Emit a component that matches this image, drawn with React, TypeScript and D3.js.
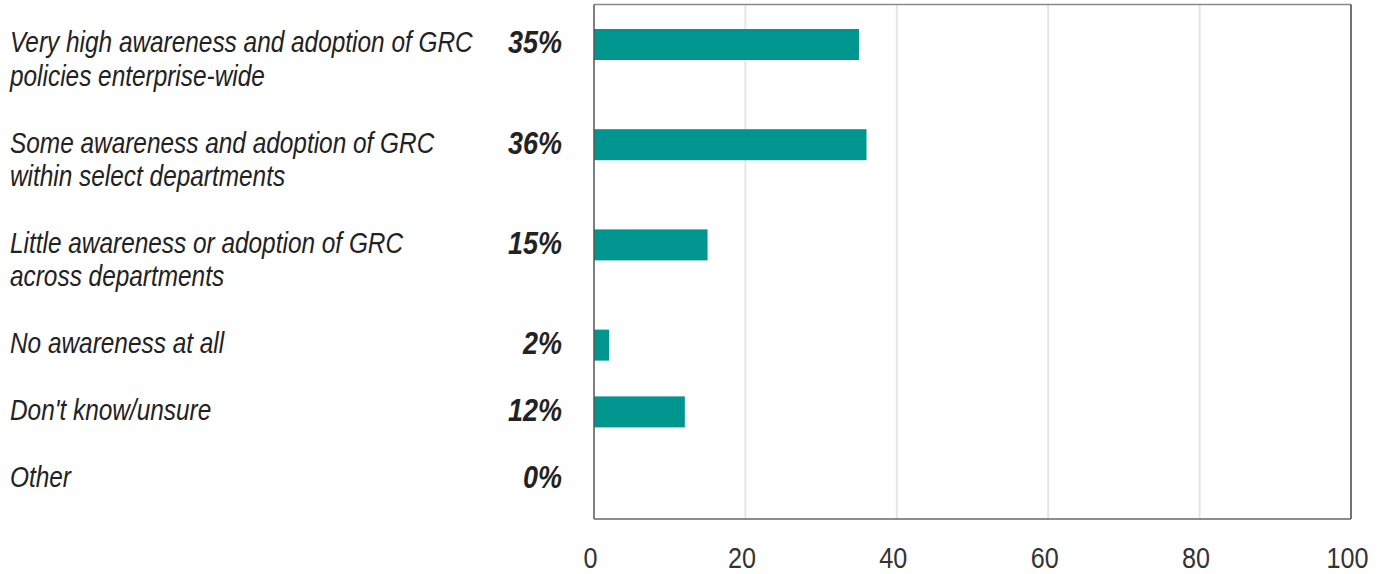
import { useEffect, useRef } from "react";
import * as d3 from "d3";

// survey answers (label lines kept as shown in the report)
const categories: string[][] = [
  ["Very high awareness and adoption of GRC", "policies enterprise-wide"],
  ["Some awareness and adoption of GRC", "within select departments"],
  ["Little awareness or adoption of GRC", "across departments"],
  ["No awareness at all"],
  ["Don't know/unsure"],
  ["Other"],
];
const values: number[] = [35, 36, 15, 2, 12, 0];
const xTicks: number[] = [0, 20, 40, 60, 80, 100];

const W = 1383;
const H = 574;
const FONT = "'Liberation Sans', Arial, sans-serif";

export default function App() {
  const svgRef = useRef<SVGSVGElement>(null);

  useEffect(() => {
    const svg = d3.select(svgRef.current);
    svg.selectAll("*").remove();

    const plot = { left: 594, right: 1351, top: 4.5, bottom: 519 };

    const x = d3.scaleLinear().domain([0, 100]).range([plot.left, plot.right]);
    // vertical position in "line units": each row takes its label lines + one blank line
    const unit = d3.scaleLinear().domain([0, 1]).range([0, 33.4]);
    let acc = 0;
    const rowStart = categories.map((c) => {
      const s = acc;
      acc += c.length + 1;
      return s;
    });
    const rowCenter = (i: number) => plot.top + 40 + unit(rowStart[i]);

    // the report uses a condensed face; squeeze a regular one to the same width
    const squeeze = (sel: any, target: number) => {
      const w = sel.node().getComputedTextLength();
      return w > 0 ? target / w : 1;
    };

    // gridlines
    svg.append("g")
      .selectAll("line")
      .data(xTicks.filter((t) => t > 0 && t < 100))
      .join("line")
      .attr("x1", (d) => x(d))
      .attr("x2", (d) => x(d))
      .attr("y1", plot.top)
      .attr("y2", plot.bottom)
      .attr("stroke", "#e4e5e8")
      .attr("stroke-width", 2);

    // frame
    svg.append("line")
      .attr("x1", plot.left).attr("x2", plot.right)
      .attr("y1", plot.top).attr("y2", plot.top)
      .attr("stroke", "#8a8a8a").attr("stroke-width", 1.5);
    svg.append("line")
      .attr("x1", plot.right).attr("x2", plot.right)
      .attr("y1", plot.top).attr("y2", plot.bottom)
      .attr("stroke", "#444").attr("stroke-width", 1.5);

    // bars
    const barH = 31;
    svg.append("g")
      .selectAll("rect")
      .data(values)
      .join("rect")
      .attr("x", x(0))
      .attr("y", (_, i) => rowCenter(i) - barH / 2)
      .attr("width", (d) => x(d) - x(0))
      .attr("height", barH)
      .attr("fill", "#009690");

    svg.append("line")
      .attr("x1", plot.left).attr("x2", plot.left)
      .attr("y1", plot.top).attr("y2", plot.bottom)
      .attr("stroke", "#555").attr("stroke-width", 1.5);
    svg.append("line")
      .attr("x1", plot.left).attr("x2", plot.right)
      .attr("y1", plot.bottom).attr("y2", plot.bottom)
      .attr("stroke", "#666").attr("stroke-width", 1.5);

    // category labels
    const labelWrap = svg.append("g").attr("transform", "translate(10,0)");
    const labels = labelWrap.append("g")
      .attr("font-family", FONT)
      .attr("font-style", "italic")
      .attr("font-size", 29)
      .attr("fill", "#222");
    categories.forEach((lines, i) => {
      const t = labels.append("text").attr("x", 0).attr("y", rowCenter(i) + 8);
      lines.forEach((l, j) => {
        t.append("tspan").attr("x", 0).attr("dy", j === 0 ? 0 : 33.4).text(l);
      });
    });
    const sxLab = squeeze(labels.select("tspan"), 463);
    labels.attr("transform", `scale(${sxLab},1)`);

    // value labels
    const valWrap = svg.append("g").attr("transform", "translate(562,0)");
    const vals = valWrap.append("g")
      .attr("font-family", FONT)
      .attr("font-style", "italic")
      .attr("font-weight", "bold")
      .attr("font-size", 31)
      .attr("fill", "#222");
    vals.selectAll("text")
      .data(values)
      .join("text")
      .attr("x", 0)
      .attr("y", (_, i) => rowCenter(i) + 9)
      .attr("text-anchor", "end")
      .text((d) => `${d}%`);
    const sxVal = squeeze(vals.select("text"), 54);
    vals.attr("transform", `scale(${sxVal},1)`);

    // x axis
    const axis = svg.append("g")
      .attr("transform", `translate(-4, ${plot.bottom})`)
      .call(d3.axisBottom(x).tickValues(xTicks).tickSize(0).tickPadding(28).tickFormat(d3.format("d")));
    axis.select(".domain").remove();
    const tickText = axis.selectAll("text")
      .attr("font-family", FONT)
      .attr("font-size", 29)
      .attr("fill", "#333");
    const sxTick = squeeze(axis.selectAll("text").filter((d: any) => d === 100), 42);
    tickText.attr("transform", `scale(${sxTick},1)`);
  }, []);

  return (
    <svg
      ref={svgRef}
      width={W}
      height={H}
      style={{ position: "absolute", left: 0, top: 0, display: "block", background: "#fff" }}
    ></svg>
  );
}
